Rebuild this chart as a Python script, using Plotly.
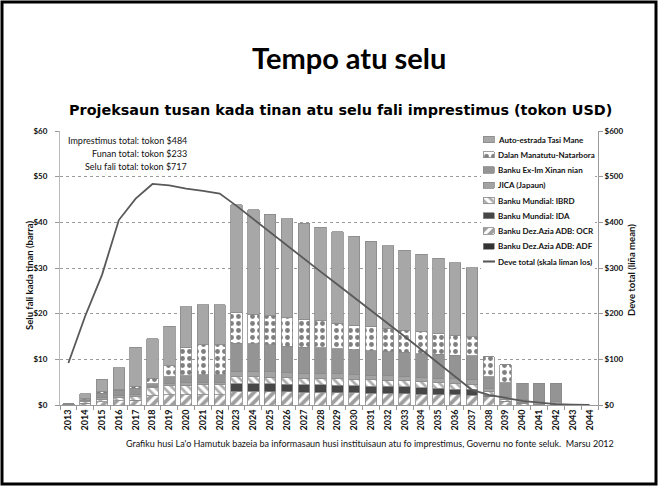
import plotly.graph_objects as go

years = ["2013", "2014", "2015", "2016", "2017", "2018", "2019", "2020", "2021", "2022",
         "2023", "2024", "2025", "2026", "2027", "2028", "2029", "2030", "2031", "2032",
         "2033", "2034", "2035", "2036", "2037", "2038", "2039", "2040", "2041", "2042",
         "2043", "2044"]

adb_adf = [0, 0, 0, 0, 0, 0, 0, 0, 0, 0,
           0, 0, 0, 0, 0, 0, 0, 0, 0, 0,
           0, 0, 0, 0, 0, 0, 0, 0, 0, 0, 0, 0]
adb_ocr = [0.2, 0.4, 0.7, 0.9, 1.0, 2.0, 2.2, 2.2, 2.3, 2.3,
           3.0, 3.0, 2.9, 2.9, 2.8, 2.8, 2.7, 2.7, 2.6, 2.6,
           2.5, 2.4, 2.3, 2.2, 2.1, 1.8, 0.8, 0.3, 0, 0, 0, 0]
wb_ida = [0, 0, 0, 0, 0, 0, 0, 0, 0, 0,
          1.7, 1.7, 1.7, 1.6, 1.6, 1.6, 1.6, 1.5, 1.5, 1.5,
          1.5, 1.4, 1.4, 1.3, 1.3, 0.3, 0, 0.1, 0, 0, 0, 0]
wb_ibrd = [0, 0.3, 0.6, 0.7, 0.8, 1.8, 2.0, 2.1, 2.1, 2.1,
           1.5, 1.5, 1.5, 1.5, 1.5, 1.4, 1.4, 1.4, 1.4, 1.3,
           1.3, 1.3, 1.2, 1.2, 1.1, 0.9, 0.5, 0.2, 0.2, 0.2, 0, 0]
jica = [0.1, 0.2, 0.4, 0.5, 0.6, 0.3, 0.5, 0.6, 0.6, 0.6,
        1.2, 1.2, 1.2, 1.1, 1.1, 1.1, 1.1, 1.0, 1.0, 1.0,
        1.0, 1.0, 1.0, 1.0, 1.0, 0.6, 0.5, 0.5, 0.5, 0.5, 0, 0]
exim = [0, 0.3, 0.9, 1.1, 1.3, 0.5, 1.5, 1.5, 1.6, 1.6,
        6.1, 6.0, 5.9, 5.8, 5.7, 5.6, 5.5, 5.5, 5.4, 5.3,
        5.2, 5.1, 5.2, 5.2, 5.3, 2.6, 3.1, 3.7, 4.1, 4.1, 0, 0]
dalan = [0, 0.2, 0.3, 0.3, 0.4, 1.3, 2.4, 6.2, 6.6, 6.6,
         6.7, 6.5, 6.3, 6.2, 6.1, 5.9, 5.6, 5.4, 5.2, 5.1,
         4.9, 4.8, 4.5, 4.4, 4.1, 4.4, 3.9, 0, 0, 0, 0, 0]
tasi_mane = [0, 1.1, 2.7, 4.7, 8.5, 8.6, 8.7, 8.9, 8.7, 8.8,
             23.6, 22.9, 22.3, 21.7, 21.0, 20.5, 20.0, 19.4, 18.8, 18.1,
             17.5, 17.0, 16.5, 15.8, 15.2, 0, 0, 0, 0, 0, 0, 0]
debt_total = [92, 195, 285, 405, 452, 484, 481, 474, 469, 463,
              436, 407, 378, 350, 321, 292, 264, 236, 207, 179,
              150, 121, 92, 62, 33, 22, 15, 9, 5, 2, 1, 0]

left_ticks = [0, 10, 20, 30, 40, 50, 60]
left_tick_labels = ["$0", "$10", "$20", "$30", "$40", "$50", "$60"]
right_ticks = [0, 100, 200, 300, 400, 500, 600]
right_tick_labels = ["$0", "$100", "$200", "$300", "$400", "$500", "$600"]

legend_names = ["Auto-estrada Tasi Mane", "Dalan Manatutu-Natarbora", "Banku Ex-Im Xinan nian",
                "JICA (Japaun)", "Banku Mundial: IBRD", "Banku Mundial: IDA",
                "Banku Dez.Azia ADB: OCR", "Banku Dez.Azia ADB: ADF",
                "Deve total (skala liman los)"]

FONT = "Lato"
OUTLINE = dict(color="#8a8a8a", width=0.8)

m_adf = dict(color="#333333", line=OUTLINE)
m_ocr = dict(color="#ffffff", line=OUTLINE,
             pattern=dict(shape="/", fgcolor="#3e3e3e", bgcolor="#ffffff", size=7, solidity=0.55))
m_ida = dict(color="#474747", line=OUTLINE)
m_ibrd = dict(color="#ffffff", line=OUTLINE,
              pattern=dict(shape="\\", fgcolor="#5c5c5c", bgcolor="#ffffff", size=6, solidity=0.45))
m_jica = dict(color="#a3a3a3", line=OUTLINE)
m_exim = dict(color="#949494", line=OUTLINE)
m_dalan = dict(color="#ffffff", line=OUTLINE,
               pattern=dict(shape=".", fgcolor="#000000", bgcolor="#ffffff", size=7, solidity=0.38))
m_tasi = dict(color="#a7a7a7", line=OUTLINE)

# stack order bottom -> top, with legend row index
series = [
    (legend_names[7], adb_adf, m_adf, 7),
    (legend_names[6], adb_ocr, m_ocr, 6),
    (legend_names[5], wb_ida, m_ida, 5),
    (legend_names[4], wb_ibrd, m_ibrd, 4),
    (legend_names[3], jica, m_jica, 3),
    (legend_names[2], exim, m_exim, 2),
    (legend_names[1], dalan, m_dalan, 1),
    (legend_names[0], tasi_mane, m_tasi, 0),
]

fig = go.Figure()
for name, vals, marker, row in series:
    fig.add_trace(go.Bar(x=years, y=vals, name=name, marker=marker, hoverinfo="x+y+name"))

fig.add_trace(go.Scatter(x=years, y=debt_total, name=legend_names[8],
                         mode="lines", line=dict(color="#595959", width=1.8),
                         yaxis="y2"))

# legend swatches drawn on a small hidden subplot
for name, vals, marker, row in series:
    fig.add_trace(go.Bar(x=[1], y=[row], orientation="h", width=0.42, marker=marker,
                         xaxis="x3", yaxis="y3", showlegend=False, hoverinfo="skip"))
fig.add_trace(go.Scatter(x=[0, 1.05], y=[8, 8], mode="lines",
                         line=dict(color="#555555", width=2),
                         xaxis="x3", yaxis="y3", showlegend=False, hoverinfo="skip"))

W, H = 661, 486
L, R, T, B = 60, 63, 131, 81
pw = W - L - R
ph = H - T - B
ncat = len(years)
y_max = 60


def px(x):
    return (x - L) / pw


def py(y):
    return (H - B - y) / ph


def cx(x):  # pixel x -> category coordinate
    return (x - L) / pw * ncat - 0.5


def cy(y):  # pixel y -> left-axis value
    return py(y) * y_max


row0, row_step = 139.5, 15.25
leg_top = row0 - row_step / 2
leg_bot = row0 + 8 * row_step + row_step / 2

fig.update_layout(
    width=W, height=H,
    margin=dict(l=L, r=R, t=T, b=B, autoexpand=False),
    paper_bgcolor="white", plot_bgcolor="white",
    barmode="stack", bargap=0.32,
    font=dict(family=FONT, color="#222222"),
    showlegend=False,
    xaxis=dict(type="category", tickangle=-90, tickson="boundaries",
               range=[-0.5, ncat - 0.5],
               ticks="outside", ticklen=4, tickcolor="#999999",
               showline=True, linecolor="#9a9a9a", linewidth=1,
               tickfont=dict(family=FONT, size=9, color="#111111", weight="bold"),
               showgrid=False),
    yaxis=dict(range=[0, y_max], tickvals=left_ticks, ticktext=left_tick_labels,
               ticks="outside", ticklen=4, tickcolor="#999999", ticklabelstandoff=6,
               showline=True, linecolor="#bbbbbb", linewidth=1,
               showgrid=True, gridcolor="#9a9a9a", griddash="dot", gridwidth=1,
               zeroline=False,
               tickfont=dict(family=FONT, size=8, color="#111111", weight="bold")),
    yaxis2=dict(range=[0, 600], tickvals=right_ticks, ticktext=right_tick_labels,
                overlaying="y", side="right", showgrid=False, zeroline=False,
                ticks="outside", ticklen=4, tickcolor="#999999",
                showline=True, linecolor="#9a9a9a", linewidth=1,
                tickfont=dict(family=FONT, size=8, color="#111111", weight="bold")),
    xaxis3=dict(domain=[px(483), px(495)], range=[0, 1.05], anchor="y3", visible=False,
                fixedrange=True),
    yaxis3=dict(domain=[py(leg_bot), py(leg_top)], range=[8.5, -0.5], anchor="x3",
                visible=False, fixedrange=True),
)

# white legend box hiding gridlines
fig.add_shape(type="rect", xref="x", yref="y",
              x0=cx(481), x1=cx(595), y0=cy(leg_bot + 1), y1=cy(leg_top - 1),
              fillcolor="white", line=dict(width=0), layer="between")

for i, nm in enumerate(legend_names):
    fig.add_annotation(text="<b>" + nm + "</b>", xref="paper", yref="paper",
                       x=px(496), y=py(row0 + i * row_step), xanchor="left", yanchor="middle",
                       showarrow=False, font=dict(family=FONT, size=8, color="#111111"))

fig.add_annotation(text="<b>Tempo atu selu</b>", xref="paper", yref="paper",
                   x=px(349), y=py(57), xanchor="center", yanchor="middle", showarrow=False,
                   font=dict(family=FONT, size=29, color="#000000"))
fig.add_annotation(text="<b>Projeksaun tusan kada tinan atu selu fali imprestimus (tokon USD)</b>",
                   xref="paper", yref="paper", x=px(340), y=py(110),
                   xanchor="center", yanchor="middle", showarrow=False,
                   font=dict(family="DejaVu Sans", size=14.4, color="#000000"))
for i, t in enumerate(["Imprestimus total: tokon $484", "Funan total: tokon $233",
                       "Selu fali total: tokon $717"]):
    fig.add_annotation(text=t, xref="paper", yref="paper", x=px(189), y=py(140 + 13.4 * i),
                       xanchor="right", yanchor="middle", showarrow=False,
                       font=dict(family=FONT, size=9, color="#111111"))
fig.add_annotation(text="<b>Selu fali kada tinan (barra)</b>", xref="paper", yref="paper",
                   x=px(29), y=py(276), xanchor="center", yanchor="middle",
                   textangle=-90, showarrow=False,
                   font=dict(family=FONT, size=9.5, color="#111111"))
fig.add_annotation(text="<b>Deve total (liña mean)</b>", xref="paper", yref="paper",
                   x=px(631), y=py(270), xanchor="center", yanchor="middle",
                   textangle=-90, showarrow=False,
                   font=dict(family=FONT, size=9.5, color="#111111"))
fig.add_annotation(text="Grafiku husi La'o Hamutuk bazeia ba informasaun husi instituisaun atu fo imprestimus, Governu no fonte seluk.  Marsu 2012",
                   xref="paper", yref="paper", x=px(370), y=py(443),
                   xanchor="center", yanchor="middle", showarrow=False,
                   font=dict(family=FONT, size=9, color="#111111"))

fig.add_shape(type="rect", xref="paper", yref="paper",
              x0=px(2), x1=px(656), y0=py(484), y1=py(2),
              line=dict(color="#000000", width=3), fillcolor="rgba(0,0,0,0)", layer="above")

fig.write_html("out.html", config={"displayModeBar": False},
               post_script="document.body.style.margin='0px';")
